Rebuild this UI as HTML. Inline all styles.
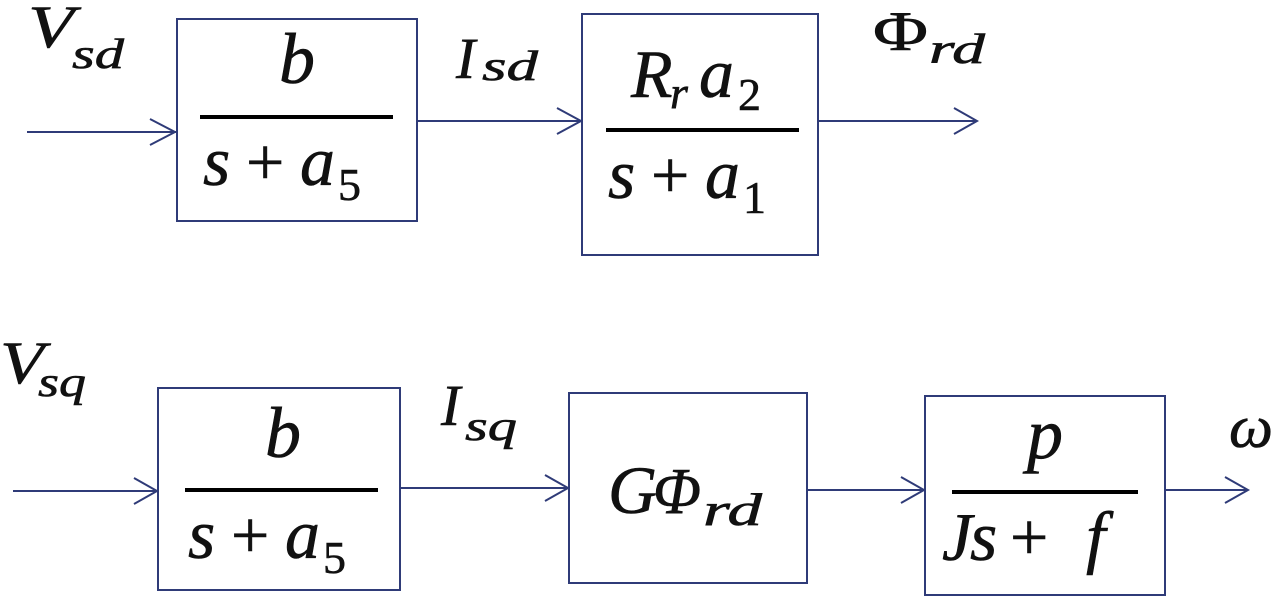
<!DOCTYPE html>
<html>
<head>
<meta charset="utf-8">
<style>
  html, body { margin:0; padding:0; background:#fff; }
  body { width:1280px; height:599px; overflow:hidden; }
  svg { display:block; }
  text { font-family: "Liberation Serif", "DejaVu Serif", serif; fill:#111; stroke:#111; stroke-width:0.6; }
  .i { font-style: italic; }
</style>
</head>
<body>
<svg width="1280" height="599" viewBox="0 0 1280 599" xmlns="http://www.w3.org/2000/svg">
  <g fill="none" stroke="#2f3b78" stroke-width="2">
    <!-- boxes -->
    <rect x="177" y="19" width="240" height="202"/>
    <rect x="582" y="14" width="236" height="241"/>
    <rect x="158" y="388" width="242" height="202"/>
    <rect x="569" y="393" width="238" height="190"/>
    <rect x="925" y="396" width="240" height="199"/>
    <!-- connectors -->
    <line x1="27" y1="132" x2="176" y2="132"/>
    <polyline points="150,119 175,132 150,145"/>
    <line x1="417" y1="121" x2="581" y2="121"/>
    <polyline points="557,108 581,121 557,134"/>
    <line x1="818" y1="121" x2="977" y2="121"/>
    <polyline points="954,108 977,121 954,134"/>

    <line x1="13" y1="491" x2="157" y2="491"/>
    <polyline points="134,478 157,491 134,504"/>
    <line x1="400" y1="488" x2="568" y2="488"/>
    <polyline points="545,475 568,488 545,501"/>
    <line x1="807" y1="490" x2="924" y2="490"/>
    <polyline points="901,477 924,490 901,503"/>
    <line x1="1165" y1="490" x2="1248" y2="490"/>
    <polyline points="1225,477 1248,490 1225,503"/>
  </g>

  <!-- fraction bars -->
  <g stroke="#000" stroke-width="4">
    <line x1="200" y1="117" x2="393" y2="117"/>
    <line x1="606" y1="130" x2="799" y2="130"/>
    <line x1="185" y1="490" x2="378" y2="490"/>
    <line x1="952" y1="492" x2="1138" y2="492"/>
  </g>

  <!-- Labels -->
  <text class="i" x="28" y="47" font-size="60" textLength="46" lengthAdjust="spacingAndGlyphs">V</text>
  <text class="i" x="72" y="68" font-size="42" textLength="52" lengthAdjust="spacingAndGlyphs">sd</text>

  <text class="i" x="456" y="78" font-size="58">I</text>
  <text class="i" x="482" y="80" font-size="42" textLength="56" lengthAdjust="spacingAndGlyphs">sd</text>

  <text x="873" y="50" font-size="56" textLength="55" lengthAdjust="spacingAndGlyphs">Φ</text>
  <text class="i" x="929" y="63" font-size="42" textLength="56" lengthAdjust="spacingAndGlyphs">rd</text>

  <text class="i" x="0" y="383" font-size="60" textLength="44" lengthAdjust="spacingAndGlyphs">V</text>
  <text class="i" x="38" y="396" font-size="42" textLength="48" lengthAdjust="spacingAndGlyphs">sq</text>

  <text class="i" x="441" y="425" font-size="58">I</text>
  <text class="i" x="465" y="440" font-size="42" textLength="52" lengthAdjust="spacingAndGlyphs">sq</text>

  <text class="i" x="1229" y="447" font-size="60" textLength="44" lengthAdjust="spacingAndGlyphs">ω</text>

  <!-- Box 1 -->
  <text class="i" x="297" y="83" font-size="72" text-anchor="middle">b</text>
  <text class="i" x="203" y="185" font-size="70">s</text>
  <text x="246" y="185" font-size="68">+</text>
  <text class="i" x="300" y="185" font-size="70">a</text>
  <text x="338" y="200" font-size="46">5</text>

  <!-- Box 2 -->
  <text class="i" x="631" y="97" font-size="68">R</text>
  <text class="i" x="670" y="108" font-size="46">r</text>
  <text class="i" x="699" y="97" font-size="70">a</text>
  <text x="738" y="110" font-size="46">2</text>
  <text class="i" x="608" y="198" font-size="70">s</text>
  <text x="651" y="198" font-size="68">+</text>
  <text class="i" x="705" y="198" font-size="70">a</text>
  <text x="743" y="213" font-size="46">1</text>

  <!-- Box 3 -->
  <text class="i" x="283" y="457" font-size="72" text-anchor="middle">b</text>
  <text class="i" x="188" y="558" font-size="70">s</text>
  <text x="231" y="558" font-size="68">+</text>
  <text class="i" x="285" y="558" font-size="70">a</text>
  <text x="323" y="573" font-size="46">5</text>

  <!-- Box 4 -->
  <text class="i" x="608" y="513" font-size="68">G</text>
  <text class="i" x="653" y="513" font-size="66" textLength="48" lengthAdjust="spacingAndGlyphs">Φ</text>
  <text class="i" x="703" y="525" font-size="46" textLength="59" lengthAdjust="spacingAndGlyphs">rd</text>

  <!-- Box 5 -->
  <text class="i" x="1045" y="458" font-size="72" text-anchor="middle">p</text>
  <text class="i" x="942" y="560" font-size="68">J</text>
  <text class="i" x="970" y="560" font-size="70">s</text>
  <text x="1010" y="560" font-size="68">+</text>
  <text class="i" x="1086" y="560" font-size="70">f</text>
</svg>
</body>
</html>
